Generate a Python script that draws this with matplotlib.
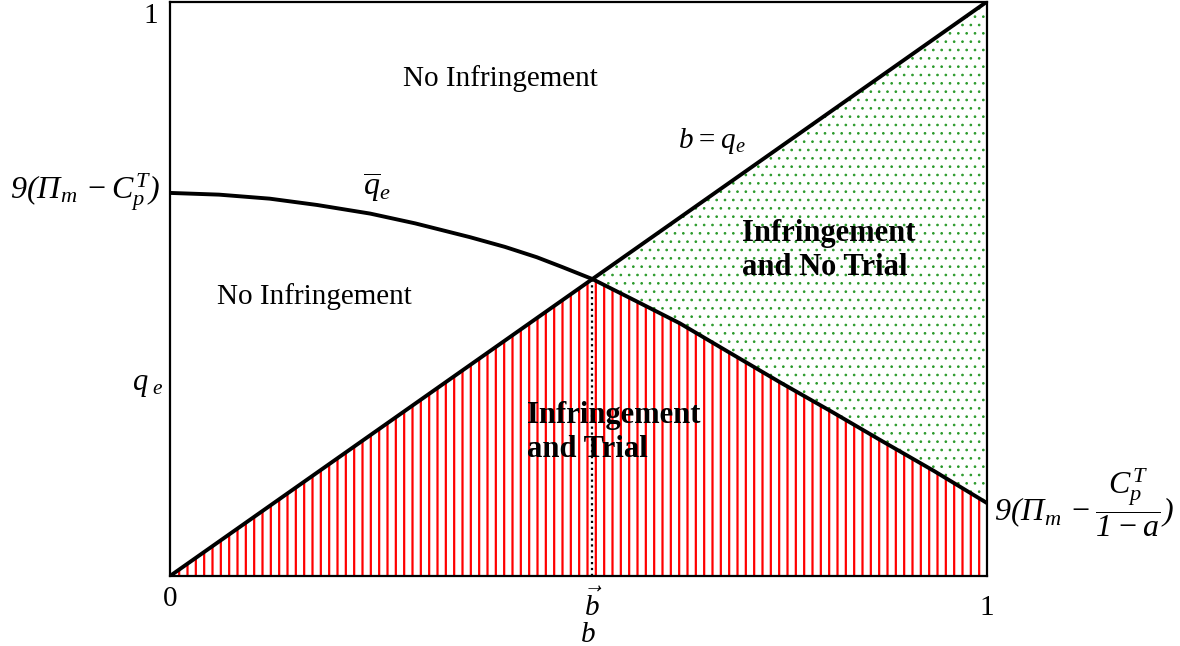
import numpy as np
import matplotlib
matplotlib.use("Agg")
import matplotlib.pyplot as plt

plt.rcParams['font.family'] = ['Liberation Serif', 'DejaVu Serif']
plt.rcParams['mathtext.fontset'] = 'custom'
plt.rcParams['mathtext.rm'] = 'Liberation Serif:italic'
plt.rcParams['mathtext.it'] = 'Liberation Serif:italic'
plt.rcParams['mathtext.bf'] = 'Liberation Serif:bold'

# curva q_e barra
b_pts = np.array([0.0, 0.06, 0.122, 0.18, 0.245, 0.30, 0.367, 0.41, 0.449, 0.48, 0.517,
                  0.57, 0.624, 0.68, 0.747, 0.81, 0.869, 0.935, 1.0])
qbar_pts = np.array([0.667, 0.664, 0.657, 0.646, 0.631, 0.614, 0.590, 0.573, 0.555, 0.538, 0.517,
                     0.479, 0.440, 0.393, 0.337, 0.286, 0.237, 0.183, 0.127])
b_bar = 0.517

fig = plt.figure(figsize=(11.8, 6.46), dpi=100)
ax = fig.add_axes([0.1441, 0.1084, 0.6923, 0.889])

# regiao "Infringement and Trial" (listras vermelhas)
plt.rcParams['hatch.linewidth'] = 1.6
ax.fill_between(b_pts, 0, np.minimum(b_pts, qbar_pts), facecolor='none',
                edgecolor='red', hatch='||', linewidth=0)

# regiao "Infringement and No Trial" (pontos verdes)
plt.rcParams['hatch.linewidth'] = 0.7
m = b_pts >= b_bar
ax.fill_between(b_pts[m], qbar_pts[m], b_pts[m], facecolor='none',
                edgecolor='#2a9a2a', hatch='..', linewidth=0)

# linhas
ax.plot([0, 1], [0, 1], color='black', lw=2.8, solid_capstyle='butt')
ax.plot(b_pts, qbar_pts, color='black', lw=2.8)
ax.vlines(b_bar, 0, b_bar, colors='black', linestyles=':', lw=1.6)

ax.set_xlim(0, 1)
ax.set_ylim(0, 1)
ax.set_xticks([])
ax.set_yticks([])
for s in ax.spines.values():
    s.set_linewidth(1.6)

fs = 21
ax.text(0.404, 0.866, 'No Infringement', fontsize=fs, ha='center', va='center')
ax.text(0.177, 0.487, 'No Infringement', fontsize=fs, ha='center', va='center')
ax.text(0.253, 0.675, r'$\overline{q}_e$', fontsize=23, ha='center', va='center')
ax.text(0.663, 0.758, r'$b=q_e$', fontsize=fs, ha='center', va='center')
ax.text(0.437, 0.25, 'Infringement\nand Trial', fontsize=22, fontweight='bold',
        ha='left', va='center', linespacing=1.25)
ax.text(0.700, 0.567, 'Infringement\nand No Trial', fontsize=22, fontweight='bold',
        ha='left', va='center', linespacing=1.25)

# rotulos dos eixos
ax.text(0.0, -0.04, '0', fontsize=fs, ha='center', va='center', clip_on=False)
ax.text(1.0, -0.055, '1', fontsize=fs, ha='center', va='center', clip_on=False)
ax.text(-0.024, 0.975, '1', fontsize=fs, ha='center', va='center', clip_on=False)
ax.text(b_bar, -0.05, r'$\vec{b}$', fontsize=fs, ha='center', va='center', clip_on=False)
ax.text(0.511, -0.102, r'$b$', fontsize=fs, ha='center', va='center', clip_on=False)
ax.text(-0.027, 0.334, r'$q_{\ e}$', fontsize=22, ha='center', va='center', clip_on=False)
ax.text(-0.012, 0.668, r'$9(\Pi_{m}\,-C_p^T)$', fontsize=23,
        ha='right', va='center', clip_on=False)
ax.text(1.009, 0.127, r'$9(\Pi_{m}\,-\dfrac{C_p^T}{1-a})$', fontsize=23,
        ha='left', va='center', clip_on=False)

fig.savefig('out.png', dpi=100)
